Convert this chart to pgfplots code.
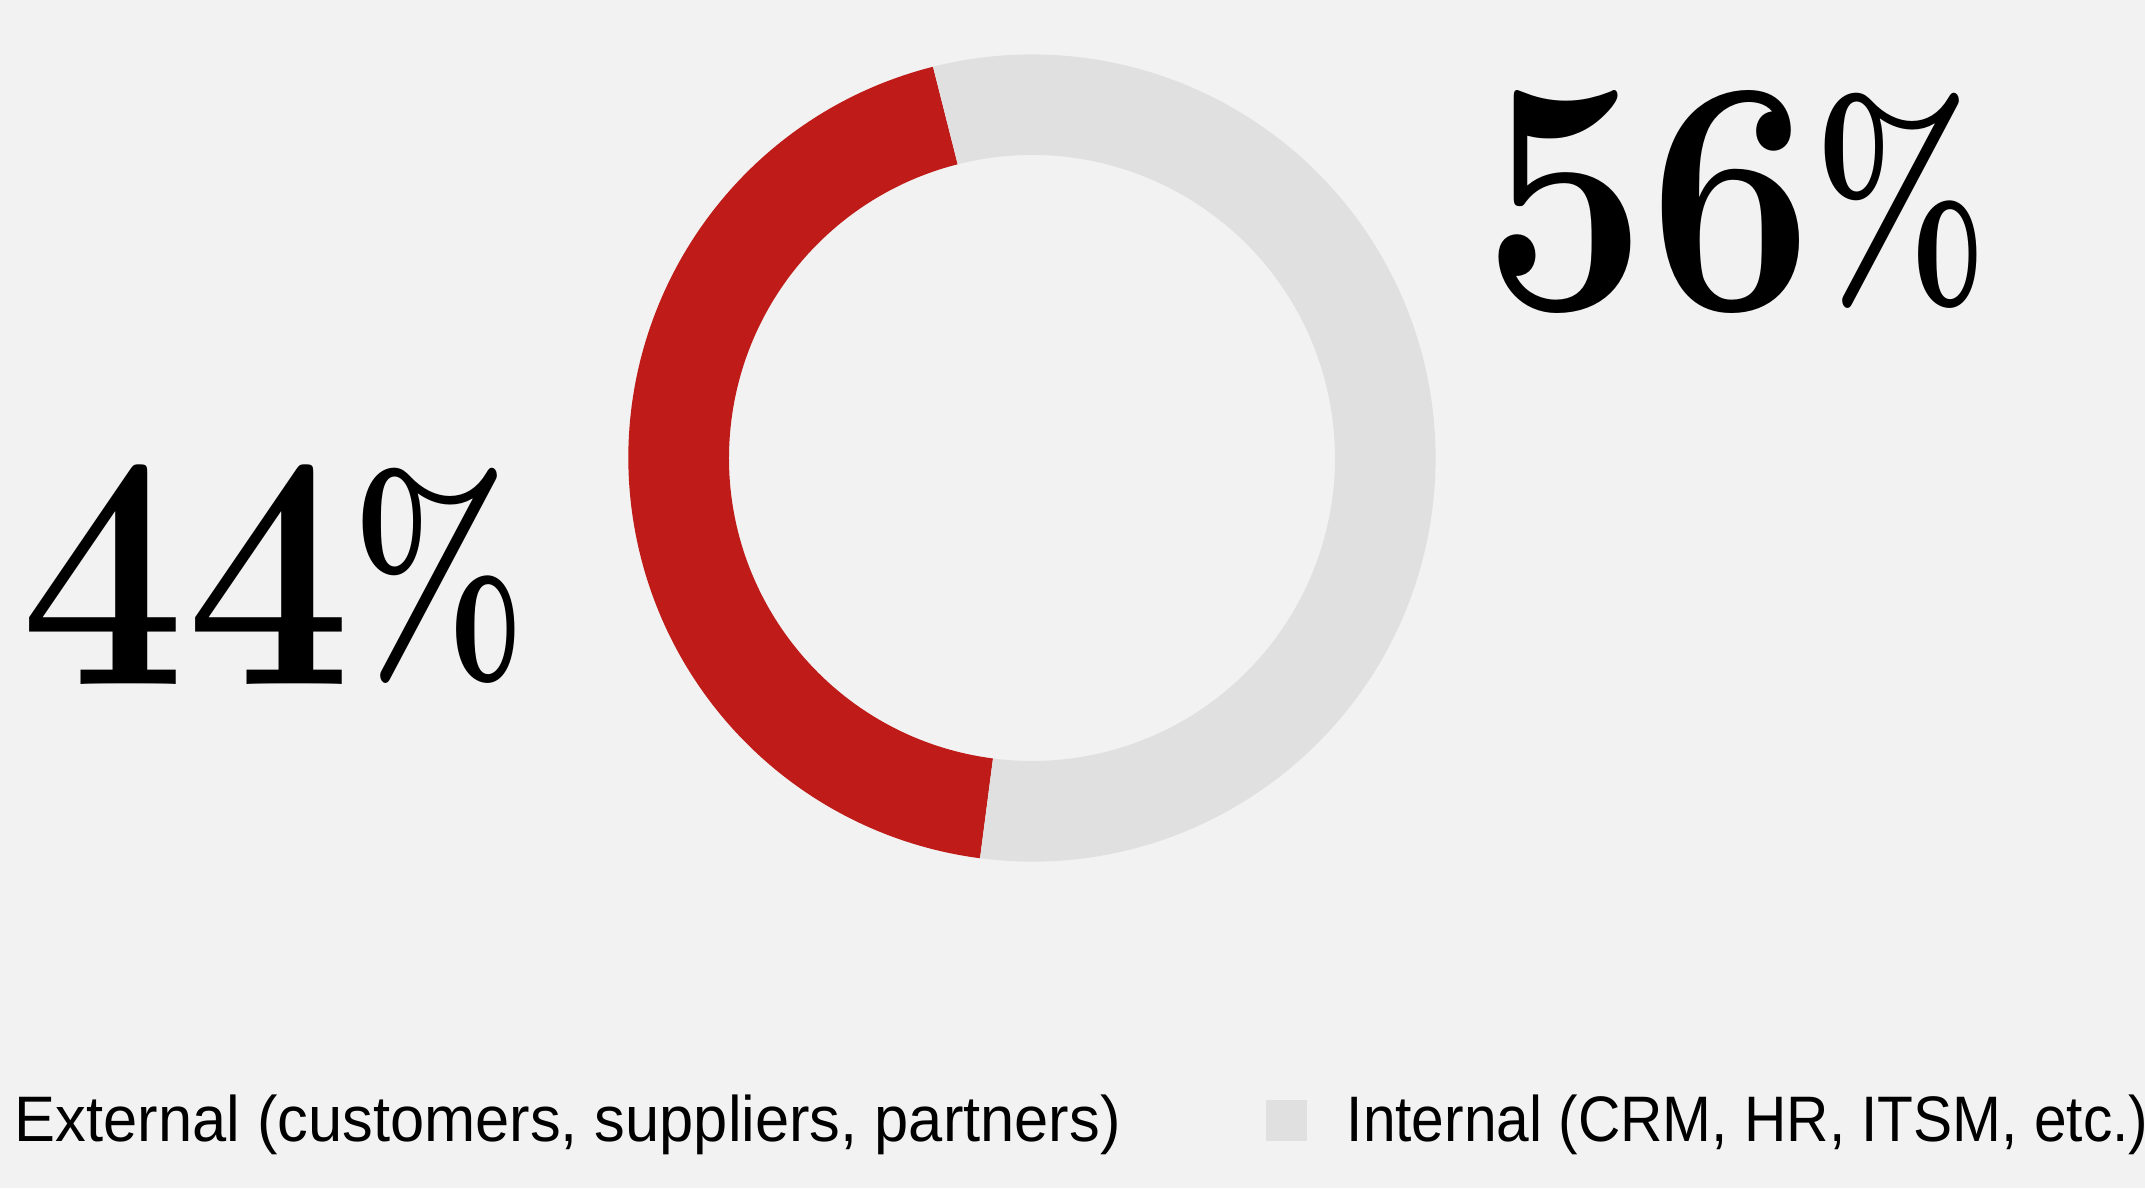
\documentclass[border=0pt]{standalone}
\usepackage{pgfplots}
\pgfplotsset{compat=1.18}
\usepackage{pgfplotstable}
\usepackage{graphicx}
\usepackage{fontspec}
\setsansfont[FakeStretch=0.955]{Liberation Sans}

\definecolor{bg}{HTML}{F2F2F2}
\definecolor{extred}{HTML}{BF1C19}
\definecolor{intgrey}{HTML}{E0E0E0}

% one ring segment, drawn round the data point
\def\ringouter{4.036cm}
\def\ringinner{3.03cm}
\pgfdeclareplotmark{ringseg}{%
  \pgfpathmoveto{\pgfpointpolar{\segstart}{\ringouter}}%
  \pgfpatharc{\segstart}{\segend}{\ringouter}%
  \pgfpathlineto{\pgfpointpolar{\segend}{\ringinner}}%
  \pgfpatharc{\segend}{\segstart}{\ringinner}%
  \pgfpathclose
  \pgfusepathqfill}

% big share labels: wide digits, short narrow percent sign
\newcommand\bignum[1]{\scalebox{0.88}[1]{#1}\raisebox{0.045em}{\scalebox{0.56}[0.8]{\%}}}

% share in percent, start angle in degrees
\pgfplotstableread{
cx cy start share
1032 730 104.2 44
}\externaldata
\pgfplotstableread{
cx cy start share
1032 730 262.6 56
}\internaldata

\begin{document}
\begin{tikzpicture}
\path[use as bounding box] (0,0) rectangle (21.45cm,11.88cm);
\fill[bg] (0,0) rectangle (21.45cm,11.88cm);
\clip (0,0) rectangle (21.45cm,11.88cm);
\begin{axis}[
  at={(0,0)}, anchor=south west,
  width=21.45cm, height=11.88cm, scale only axis,
  xmin=0, xmax=2145, ymin=0, ymax=1188,
  hide axis, clip=false,
  ringplot/.style={only marks, mark=ringseg, mark options={draw=none},
    visualization depends on={\thisrow{start} \as \segstart},
    visualization depends on={\thisrow{start}+3.6*\thisrow{share} \as \segend}},
]
\addplot[ringplot, color=extred, mark options={fill=extred}] table[x=cx, y=cy] {\externaldata};
\addplot[ringplot, color=intgrey, mark options={fill=intgrey}] table[x=cx, y=cy] {\internaldata};

\node[anchor=base west, inner sep=0pt, font=\bfseries\fontsize{95pt}{100pt}\selectfont]
  at (axis cs:20,504) {\bignum{44}};
\node[anchor=base west, inner sep=0pt, font=\bfseries\fontsize{95pt}{100pt}\selectfont]
  at (axis cs:1482,879) {\bignum{56}};

\node[anchor=base west, inner sep=0pt, font=\sffamily\fontsize{18.3pt}{22pt}\selectfont]
  at (axis cs:14,47) {External (customers, suppliers, partners)};
\fill[intgrey] (axis cs:1266,47) rectangle (axis cs:1307,88);
\node[anchor=base west, inner sep=0pt, font=\sffamily\fontsize{18.3pt}{22pt}\selectfont]
  at (axis cs:1346,47) {\scalebox{0.955}[1]{Internal (CRM, HR, ITSM, etc.)}};
\end{axis}
\end{tikzpicture}
\end{document}
